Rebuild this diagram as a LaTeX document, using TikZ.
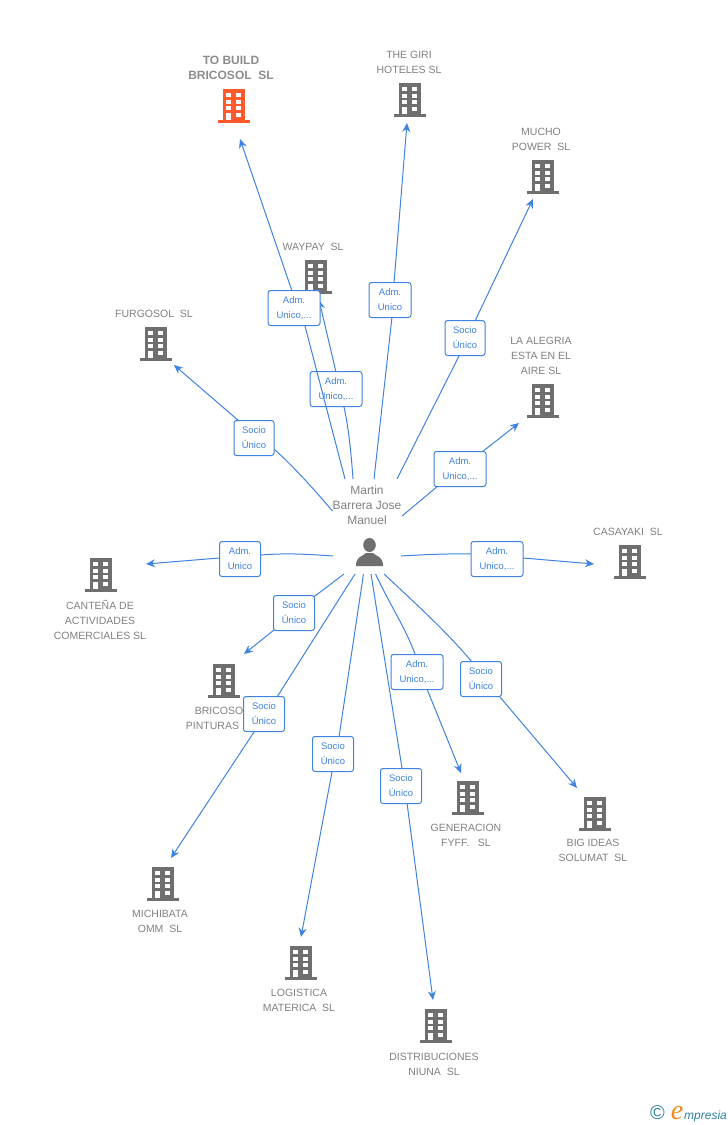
\documentclass[tikz,border=0pt]{standalone}
\usepackage{fontspec}
\setmainfont{Liberation Sans}
\newfontfamily\logofont{Liberation Serif}
\usetikzlibrary{arrows.meta,backgrounds}
\definecolor{linkblue}{HTML}{3F82E0}
\definecolor{namegray}{HTML}{808080}
\definecolor{icongray}{HTML}{6F6F6F}
\definecolor{iconred}{HTML}{FF5A2B}
\definecolor{logoteal}{HTML}{2F7F9F}
\definecolor{logoorange}{HTML}{F08A1D}
\tikzset{bldg/.pic={
    \fill[pic actions] (-11,-17) rectangle (11,14);
    \fill[pic actions] (-16,14) rectangle (16,17);
    \fill[white] (-8,-13) rectangle (-3.3,-9);
    \fill[white] (2,-13) rectangle (6.7,-9);
    \fill[white] (-8,-6.5) rectangle (-3.3,-2.5);
    \fill[white] (2,-6.5) rectangle (6.7,-2.5);
    \fill[white] (-8,0) rectangle (-3.3,4);
    \fill[white] (2,0) rectangle (6.7,4);
    \fill[white] (-8,7) rectangle (-3.3,14);
    \fill[white] (2,7) rectangle (6.7,11);
}}
\begin{document}
\begin{tikzpicture}[x=1pt,y=-1pt]
    \tikzstyle{link}=[draw=linkblue, line width=1pt, -{Stealth[length=9pt,width=8pt]}]
    \tikzstyle{tag}=[rectangle, rounded corners=2.5pt, draw=linkblue, line width=1pt, fill=white,
    text=linkblue, align=center, font=\fontsize{9.5}{15}\selectfont, inner sep=0pt, minimum height=35pt]
    \tikzstyle{firm}=[align=center, text=namegray, font=\fontsize{10.5}{15}\selectfont, inner sep=0pt]
    \useasboundingbox (0,0) rectangle (728,1125);

    \pic[fill=iconred] at (234,106) {bldg};
    \pic[fill=icongray] at (410,100) {bldg};
    \pic[fill=icongray] at (543,177) {bldg};
    \pic[fill=icongray] at (316,277) {bldg};
    \pic[fill=icongray] at (156,344) {bldg};
    \pic[fill=icongray] at (543,401) {bldg};
    \pic[fill=icongray] at (630,562) {bldg};
    \pic[fill=icongray] at (101,575) {bldg};
    \pic[fill=icongray] at (224,681) {bldg};
    \pic[fill=icongray] at (163,884) {bldg};
    \pic[fill=icongray] at (301,963) {bldg};
    \pic[fill=icongray] at (436,1026) {bldg};
    \pic[fill=icongray] at (468,798) {bldg};
    \pic[fill=icongray] at (595,814) {bldg};

    \node[firm, text=namegray!90, font=\fontsize{12}{15}\selectfont\bfseries] (n1) at (231,68) {TO BUILD\\BRICOSOL\ \ SL};
    \node[firm] (n2) at (409,62.5) {THE GIRI\\HOTELES SL};
    \node[firm] (n3) at (541,139.5) {MUCHO\\POWER\ \ SL};
    \node[firm] (n4) at (313,247) {WAYPAY\ \ SL};
    \node[firm] (n5) at (154,314) {FURGOSOL\ \ SL};
    \node[firm] (n6) at (541,356) {LA ALEGRIA\\ESTA EN EL\\AIRE SL};
    \node[firm] (n7) at (628,532) {CASAYAKI\ \ SL};
    \node[firm] (n8) at (100,620) {CANTEÑA DE\\ACTIVIDADES\\COMERCIALES SL};
    \node[firm] (n9) at (219,711) {BRICOSO};
    \node[firm] (n10) at (212.5,726) {PINTURAS};
    \node[firm] (n11) at (160,921.5) {MICHIBATA\\OMM\ \ SL};
    \node[firm] (n12) at (299,1000.5) {LOGISTICA\\MATERICA\ \ SL};
    \node[firm] (n13) at (434,1064.5) {DISTRIBUCIONES\\NIUNA\ \ SL};
    \node[firm] (n14) at (466,835.5) {GENERACION\\FYFF.\ \ \ SL};
    \node[firm] (n15) at (593,850.5) {BIG IDEAS\\SOLUMAT\ \ SL};
    \node[firm, font=\fontsize{12}{15}\selectfont] (p) at (367,505.5) {Martin\\Barrera Jose\\Manuel};

    % person
    \fill[icongray] (369.5,545) ellipse (6.3 and 7);
    \fill[icongray] (356,566) .. controls (356,556) and (362,557) .. (366,553) -- (373,553) .. controls (377,557) and (383,556) .. (383,566) -- cycle;

    % ends at the person
    \coordinate (s1) at (345,479);
    \coordinate (s2) at (353,479);
    \coordinate (s3) at (374,479);
    \coordinate (s4) at (397,479);
    \coordinate (s5) at (402,516);
    \coordinate (s6) at (332.5,511);
    \coordinate (s7) at (333,556);
    \coordinate (s8) at (401,556);
    \coordinate (s9) at (344,574);
    \coordinate (s10) at (355,574);
    \coordinate (s11) at (363.5,574);
    \coordinate (s12) at (371,574);
    \coordinate (s13) at (375.5,574);
    \coordinate (s14) at (384,574);
    % ends at the firms
    \coordinate (t1) at (240,139);
    \coordinate (t2) at (319,300);
    \coordinate (t3) at (407,123);
    \coordinate (t4) at (533,199);
    \coordinate (t5) at (519,423);
    \coordinate (t6) at (174,365);
    \coordinate (t7) at (146,564);
    \coordinate (t8) at (594,564);
    \coordinate (t9) at (244,654);
    \coordinate (t10) at (171,858);
    \coordinate (t11) at (301,937);
    \coordinate (t12) at (433,1000);
    \coordinate (t13) at (461,773);
    \coordinate (t14) at (577,788);
    % where the links go in and out of the boxes
    \coordinate (a1) at (305,326);   \coordinate (b1) at (292,291);
    \coordinate (a2) at (344,407);   \coordinate (b2) at (336,372);
    \coordinate (a3) at (392,317);   \coordinate (b3) at (394,283);
    \coordinate (a4) at (459,356);   \coordinate (b4) at (475,321);
    \coordinate (a5) at (438,486);   \coordinate (b5) at (482,452);
    \coordinate (a6) at (275,450);   \coordinate (b6) at (239,421);
    \coordinate (a7) at (261,555);   \coordinate (b7) at (219,558);
    \coordinate (a8) at (472,554);   \coordinate (b8) at (523,558);
    \coordinate (a9) at (315,596);   \coordinate (b9) at (274,630);
    \coordinate (a10) at (277,697);  \coordinate (b10) at (254,732);
    \coordinate (a11) at (339,737);  \coordinate (b11) at (332,772);
    \coordinate (a12) at (402,768);  \coordinate (b12) at (407,803);
    \coordinate (a13) at (415,654);  \coordinate (b13) at (427,689);
    \coordinate (a14) at (472,662);  \coordinate (b14) at (500,697);

    \node[tag, minimum width=52pt] (r2) at (336,389) {Adm.\\Unico,...};
    \node[tag, minimum width=42pt] (r3) at (390,300) {Adm.\\Unico};
    \node[tag, minimum width=40pt] (r4) at (465,338) {Socio\\Único};
    \node[tag, minimum width=52pt] (r5) at (460,469) {Adm.\\Unico,...};
    \node[tag, minimum width=40pt] (r6) at (254,438) {Socio\\Único};
    \node[tag, minimum width=41pt] (r7) at (240,559) {Adm.\\Unico};
    \node[tag, minimum width=52pt] (r8) at (497,559) {Adm.\\Unico,...};
    \node[tag, minimum width=41pt] (r9) at (294,613) {Socio\\Único};
    \node[tag, minimum width=41pt] (r10) at (264,714) {Socio\\Único};
    \node[tag, minimum width=41pt] (r11) at (333,754) {Socio\\Único};
    \node[tag, minimum width=52pt] (r13) at (417,672) {Adm.\\Unico,...};
    \node[tag, minimum width=41pt] (r14) at (481,679) {Socio\\Único};

    % these two links run over a box of another link
    \draw[link] (s1) -- (a1) -- (b1) -- (t1);
    \draw[link] (s12) -- (a12) -- (b12) -- (t12);
    \node[tag, minimum width=52pt] (r1) at (294,308) {Adm.\\Unico,...};
    \node[tag, minimum width=41pt] (r12) at (401,786) {Socio\\Único};

    \begin{scope}[on background layer]
    \draw[link] (s2) .. controls (351,450) and (348,425) .. (a2) -- (b2) -- (t2);
    \draw[link] (s3) -- (a3) -- (b3) -- (t3);
    \draw[link] (s4) -- (a4) -- (b4) -- (t4);
    \draw[link] (s5) -- (a5) -- (b5) -- (t5);
    \draw[link] (s6) .. controls (312,487) and (292,465) .. (a6) -- (b6) -- (t6);
    \draw[link] (s7) .. controls (305,554) and (285,553) .. (a7) -- (b7) -- (t7);
    \draw[link] (s8) .. controls (425,554.5) and (450,553.5) .. (a8) -- (b8) -- (t8);
    \draw[link] (s9) -- (a9) -- (b9) -- (t9);
    \draw[link] (s10) -- (a10) -- (b10) -- (t10);
    \draw[link] (s11) -- (a11) -- (b11) -- (t11);
    \draw[link] (s13) .. controls (390,605) and (405,627) .. (a13) -- (b13) -- (t13);
    \draw[link] (s14) .. controls (415,603) and (447,632) .. (a14) -- (b14) -- (t14);
    \end{scope}

    % logo
    \node[text=logoteal, font=\fontsize{20}{20}\selectfont, inner sep=0pt] (c) at (657.5,1113) {©};
    \node[text=logoorange, font=\logofont\fontsize{28}{28}\selectfont\itshape, inner sep=0pt, anchor=base] (e) at (677,1119) {e};
    \node[text=logoteal, font=\fontsize{12}{14}\selectfont\itshape, inner sep=0pt, anchor=base west] (m) at (684,1119) {mpresia};
\end{tikzpicture}
\end{document}
